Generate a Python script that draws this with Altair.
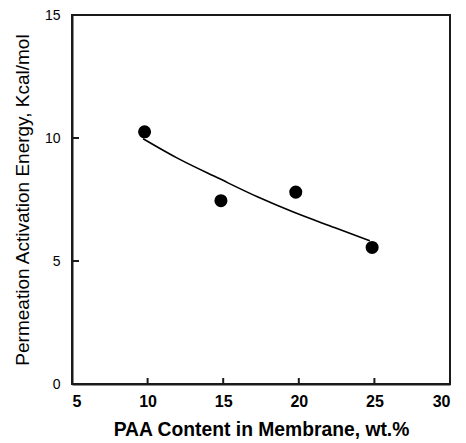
import altair as alt
import pandas as pd

# measured points
pts_x = [9.8, 14.85, 19.8, 24.85]
pts_y = [10.25, 7.45, 7.8, 5.55]

# fitted curve
curve_x = [9.7, 12.0, 14.7, 17.3, 19.6, 22.4, 24.7]
curve_y = [9.97, 9.17, 8.36, 7.6, 7.0, 6.35, 5.82]

x_ticks = [5, 10, 15, 20, 25, 30]
y_ticks = [0, 5, 10, 15]
x_inner_ticks = [10, 15, 20, 25]
y_inner_ticks = [5, 10]

FONT = "Liberation Sans"
INK = "#1a1a1a"
W, H = 378, 369

pts = pd.DataFrame({"x": pts_x, "y": pts_y})
curve = pd.DataFrame({"x": curve_x, "y": curve_y})
xt = pd.DataFrame({"x": x_inner_ticks})
yt = pd.DataFrame({"y": y_inner_ticks})

xscale = alt.Scale(domain=[5, 30], nice=False, zero=False)
yscale = alt.Scale(domain=[0, 15], nice=False, zero=False)

xaxis = alt.Axis(
    title="PAA Content in Membrane, wt.%", values=x_ticks, ticks=False, grid=False,
    domain=True, domainColor=INK, domainWidth=2,
    labelFont=FONT, labelFontSize=16, labelFontWeight="bold",
    labelColor="black", labelPadding=9, titleFont=FONT, titleFontSize=19.3,
    titleFontWeight="bold", titleColor="black", titlePadding=11,
)
yaxis = alt.Axis(
    title="Permeation Activation Energy, Kcal/mol", values=y_ticks, ticks=False,
    grid=False, domain=True, domainColor=INK, domainWidth=2,
    labelFont=FONT, labelFontSize=14,
    labelFontWeight="normal", labelColor="black", labelPadding=12,
    titleFont=FONT, titleFontSize=19, titleFontWeight="normal", titleColor="black",
    titlePadding=12,
)

points = alt.Chart(pts).mark_circle(color="black", opacity=1, size=170).encode(
    x=alt.X("x:Q", scale=xscale, axis=xaxis),
    y=alt.Y("y:Q", scale=yscale, axis=yaxis),
)
xticks_layer = alt.Chart(xt).mark_rule(color=INK, strokeWidth=2).encode(
    x=alt.X("x:Q", scale=xscale),
    y=alt.value(H),
    y2=alt.value(H - 6),
)
yticks_layer = alt.Chart(yt).mark_rule(color=INK, strokeWidth=2).encode(
    y=alt.Y("y:Q", scale=yscale),
    x=alt.value(0),
    x2=alt.value(7),
)
frame = alt.Chart(pts).mark_rect(filled=False, stroke=INK, strokeWidth=2).encode(
    x=alt.value(0), x2=alt.value(W), y=alt.value(0), y2=alt.value(H)
)
line = alt.Chart(curve).mark_line(color="black", strokeWidth=1.6, interpolate="monotone").encode(
    x=alt.X("x:Q", scale=xscale),
    y=alt.Y("y:Q", scale=yscale),
)

chart = alt.layer(points, xticks_layer, yticks_layer, frame, line).properties(
    width=W, height=H,
    padding={"left": 5, "top": 0, "right": 5, "bottom": 5},
).configure_view(stroke=INK, strokeWidth=2)

chart.save("out.html", embed_options={"renderer": "svg", "actions": False})
